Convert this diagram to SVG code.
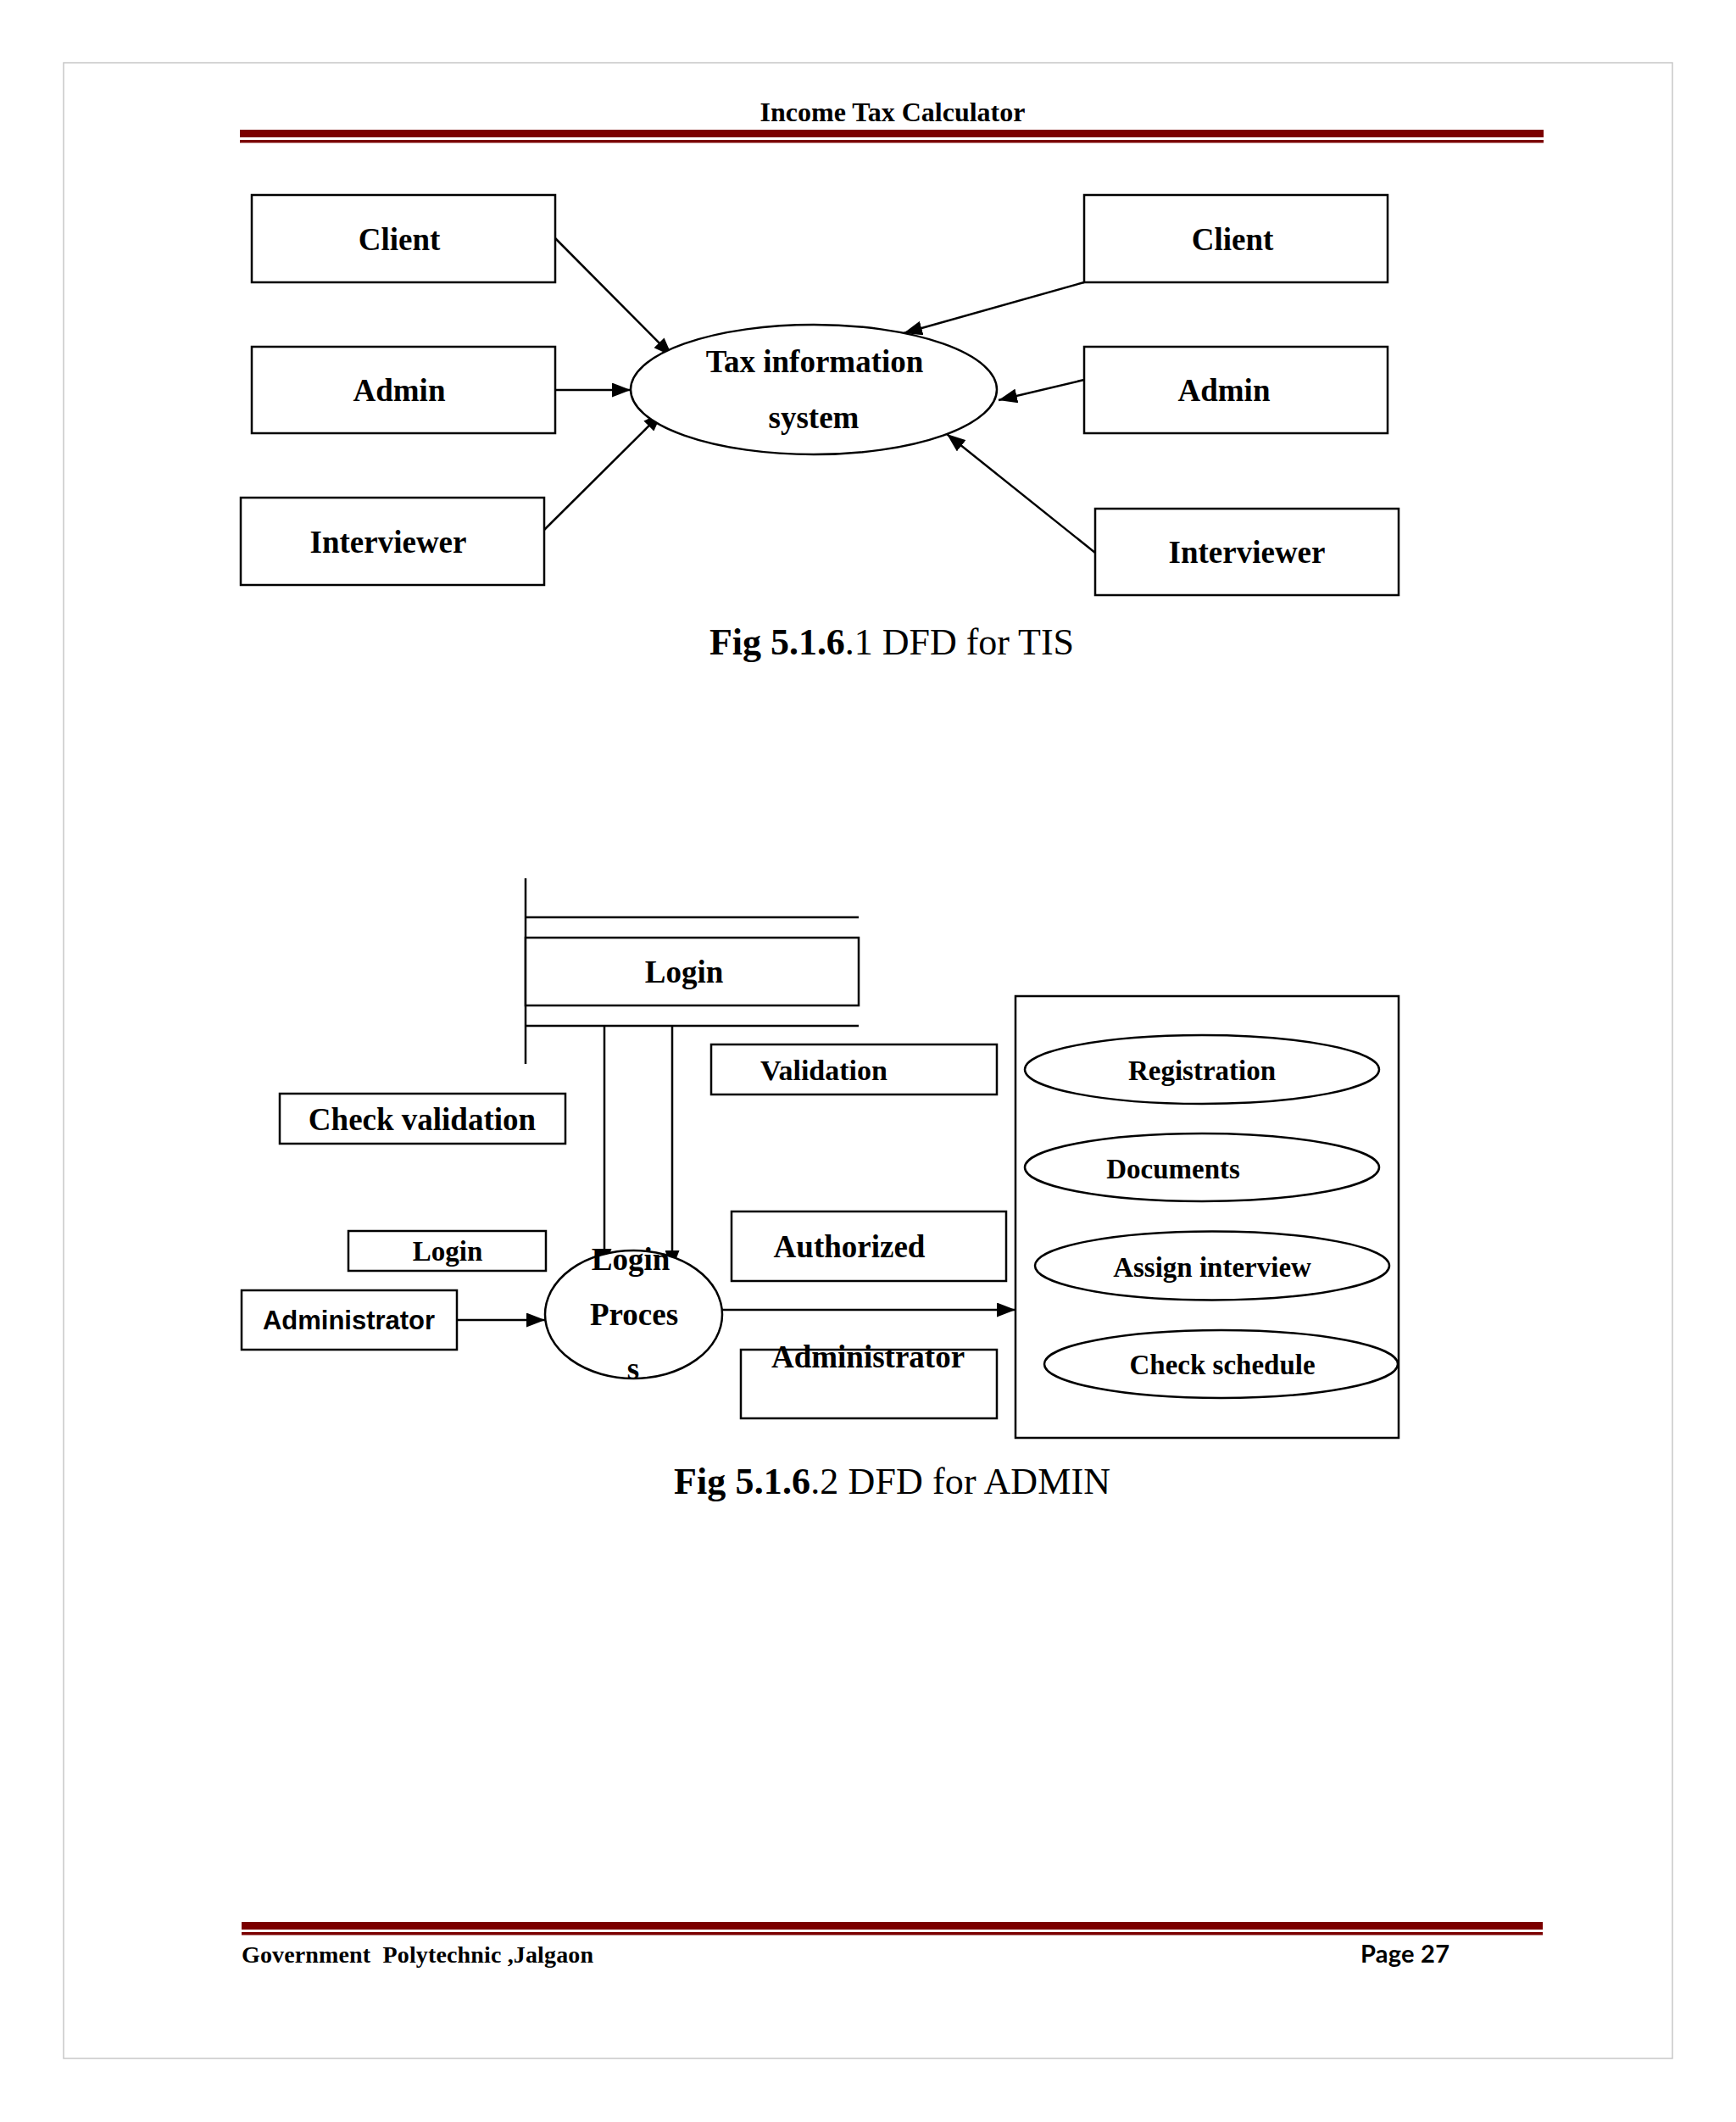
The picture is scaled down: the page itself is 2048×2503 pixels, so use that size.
<svg xmlns="http://www.w3.org/2000/svg" width="2048" height="2503" viewBox="0 0 2048 2503">
<defs>
<marker id="arr" viewBox="0 0 22 17" refX="22" refY="8.5" markerWidth="22" markerHeight="17" markerUnits="userSpaceOnUse" orient="auto">
<path d="M0,0 L22,8.5 L0,17 z" fill="#000"/>
</marker>
</defs>
<style>
.bx{fill:#fff;stroke:#000;stroke-width:2.5}
.el{fill:#fff;stroke:#000;stroke-width:2.5}
.ln{fill:none;stroke:#000;stroke-width:2.5}
.ar{fill:none;stroke:#000;stroke-width:2.5;marker-end:url(#arr)}
.t{font-family:"Liberation Serif","Times New Roman",serif;font-weight:bold;font-size:37px;text-anchor:middle;fill:#000}
.ts{font-family:"Liberation Serif","Times New Roman",serif;font-weight:bold;font-size:33px;text-anchor:middle;fill:#000}
.sans{font-family:"Liberation Sans",Arial,sans-serif;font-weight:bold;font-size:31px;text-anchor:middle;fill:#000}
.cap{font-family:"Liberation Serif","Times New Roman",serif;font-size:44px;fill:#000}
.rule{fill:#7b0000}
</style>
<rect x="0" y="0" width="2048" height="2503" fill="#fff"/>
<rect x="75" y="74" width="1898" height="2354" fill="none" stroke="#c8c8c8" stroke-width="1.5"/>

<g id="header">
<text x="1053" y="143" class="ts" style="font-size:32px">Income Tax Calculator</text>
<rect x="283" y="153" width="1538" height="9" class="rule"/>
<rect x="283" y="165" width="1538" height="3.5" class="rule"/>
</g>

<g id="footer">
<rect x="285" y="2267" width="1535" height="9" class="rule"/>
<rect x="285" y="2279" width="1535" height="3.5" class="rule"/>
<text x="285" y="2315" style="font-family:'Liberation Serif','Times New Roman',serif;font-weight:bold;font-size:28px;white-space:pre" xml:space="preserve" textLength="415">Government  Polytechnic ,Jalgaon</text>
<text x="1605" y="2315" style="font-family:Lato,'Liberation Sans',sans-serif;font-weight:bold;font-size:29px" textLength="105">Page 27</text>
</g>

<!-- Figure 1 -->
<g id="fig1-connectors">
<line x1="655" y1="281" x2="793" y2="420" class="ar"/>
<line x1="655" y1="460" x2="744" y2="460" class="ar"/>
<line x1="642" y1="625" x2="781" y2="487" class="ar"/>
<line x1="1279" y1="333" x2="1066" y2="393" class="ar"/>
<line x1="1279" y1="448" x2="1178" y2="472" class="ar"/>
<line x1="1292" y1="652" x2="1117" y2="512" class="ar"/>
</g>
<g id="tis">
<ellipse cx="960" cy="459.5" rx="216" ry="76.5" class="el"/>
<text x="961" y="439" class="t">Tax information</text>
<text x="960" y="505" class="t">system</text>
</g>
<g id="client-l"><rect x="297" y="230" width="358" height="103" class="bx"/><text x="471" y="295" class="t">Client</text></g>
<g id="admin-l"><rect x="297" y="409" width="358" height="102" class="bx"/><text x="471" y="473" class="t">Admin</text></g>
<g id="interviewer-l"><rect x="284" y="587" width="358" height="103" class="bx"/><text x="458" y="652" class="t">Interviewer</text></g>
<g id="client-r"><rect x="1279" y="230" width="358" height="103" class="bx"/><text x="1454" y="295" class="t">Client</text></g>
<g id="admin-r"><rect x="1279" y="409" width="358" height="102" class="bx"/><text x="1444" y="473" class="t">Admin</text></g>
<g id="interviewer-r"><rect x="1292" y="600" width="358" height="102" class="bx"/><text x="1471" y="664" class="t">Interviewer</text></g>
<text x="837" y="772" class="cap" textLength="430"><tspan font-weight="bold">Fig 5.1.6</tspan>.1 DFD for TIS</text>

<!-- Figure 2 -->
<g id="login-store">
<line x1="620" y1="1036" x2="620" y2="1255" class="ln"/>
<line x1="620" y1="1082" x2="1013" y2="1082" class="ln"/>
<line x1="620" y1="1210" x2="1013" y2="1210" class="ln"/>
<rect x="620" y="1106" width="393" height="80" class="bx"/>
<text x="807" y="1159" class="t">Login</text>
</g>
<g id="fig2-connectors">
<line x1="713" y1="1210" x2="713" y2="1495" class="ar"/>
<line x1="793" y1="1210" x2="793" y2="1497" class="ar"/>
<line x1="539" y1="1557" x2="643" y2="1557" class="ar"/>
<line x1="852" y1="1545" x2="1198" y2="1545" class="ar"/>
</g>
<g id="lbl-validation"><rect x="839" y="1232" width="337" height="59" class="bx"/><text x="972" y="1274" class="ts" style="font-size:34px">Validation</text></g>
<g id="lbl-check"><rect x="330" y="1290" width="337" height="59" class="bx"/><text x="498" y="1333" class="t">Check validation</text></g>
<g id="lbl-login"><rect x="411" y="1452" width="233" height="47" class="bx"/><text x="528" y="1487" class="ts">Login</text></g>
<g id="administrator"><rect x="285" y="1522" width="254" height="70" class="bx"/><text x="411.5" y="1568" class="sans">Administrator</text></g>
<g id="login-process">
<ellipse cx="747.5" cy="1550.5" rx="104.5" ry="75.5" class="el"/>
<text x="744" y="1498" class="t">Login</text>
<text x="748" y="1563" class="t">Proces</text>
<text x="747" y="1627" class="t">s</text>
</g>
<g id="lbl-authorized"><rect x="863" y="1429" width="324" height="82" class="bx"/><text x="1002" y="1483" class="t">Authorized</text></g>
<g id="lbl-administrator"><rect x="874" y="1592" width="302" height="81" class="bx"/><text x="1024" y="1613" class="t">Administrator</text></g>
<g id="admin-functions">
<rect x="1198" y="1175" width="452" height="521" class="bx"/>
<ellipse cx="1418" cy="1261.5" rx="209" ry="40.5" class="el"/>
<text x="1418" y="1274" class="ts">Registration</text>
<ellipse cx="1418" cy="1377" rx="209" ry="40" class="el"/>
<text x="1384" y="1390" class="ts">Documents</text>
<ellipse cx="1430" cy="1493" rx="209" ry="40.5" class="el"/>
<text x="1430" y="1506" class="ts">Assign interview</text>
<ellipse cx="1440.5" cy="1609" rx="208.5" ry="40" class="el"/>
<text x="1442" y="1621" class="ts">Check schedule</text>
</g>
<text x="795" y="1762" class="cap" textLength="515"><tspan font-weight="bold">Fig 5.1.6</tspan>.2 DFD for ADMIN</text>
</svg>
